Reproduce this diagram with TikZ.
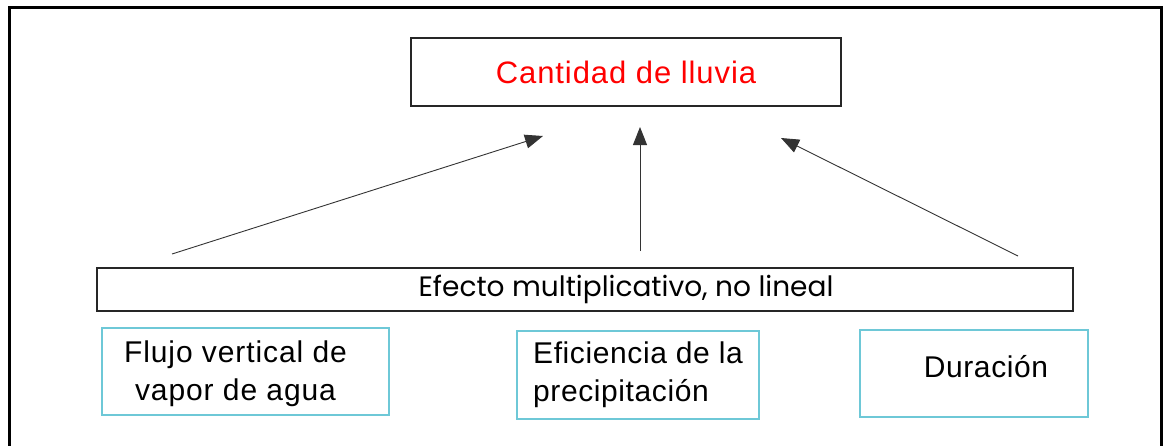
\documentclass[tikz,border=0pt]{standalone}
\usepackage{fontspec}
\setmainfont{Liberation Sans}
\newfontfamily\gothic{Poppins}
\usetikzlibrary{positioning, arrows.meta}
\definecolor{boxcyan}{RGB}{110,200,215}
\tikzset{
  rect1/.style = {
    shape = rectangle,
    draw = black!85,
    line width = 1.2pt,
    inner sep = 0pt,
    align = center,
  }
}
\tikzset{
  rect2/.style = {
    shape = rectangle,
    draw = boxcyan,
    line width = 1.2pt,
    inner sep = 0pt,
    font = \fontsize{30}{38}\selectfont\addfontfeature{LetterSpace=2},
  }
}
\tikzset{
  arrow1/.style = {
    draw = black!80, line width = 0.9pt, -{Triangle[length = 18pt, width = 14pt]},
  }
}

\begin{document}
\begin{tikzpicture}[x=1pt, y=-1pt]
        \useasboundingbox (0,0) rectangle (1164,445);
        \draw[line width = 3pt] (9,450) -- (9,7) -- (1161,7) -- (1161,450);
        \node[rect1, minimum width = 430pt, minimum height = 68pt, text = red,
          font = \fontsize{31}{38}\selectfont\addfontfeature{LetterSpace=3}](lluvia) at (626,72){Cantidad de lluvia};
        \node[rect1, minimum width = 976pt, minimum height = 43pt,
          label = {[font = \gothic\fontsize{28}{34}\selectfont, xshift = 41pt]center:Efecto multiplicativo, no lineal}](efecto) at (585,289.5){};
        \node[rect2, minimum width = 287pt, minimum height = 87pt,
          label = {[font = \fontsize{30}{38}\selectfont\addfontfeature{LetterSpace=3}, align = center, xshift = -10pt, yshift = -2pt]center:Flujo vertical de\\vapor de agua}](flujo) at (245.5,371.5){};
        \node[rect2, minimum width = 242pt, minimum height = 88pt, align = left](eficiencia) at (638,375){Eficiencia de la\\precipitación};
        \node[rect2, minimum width = 228pt, minimum height = 87pt,
          label = {[font = \fontsize{30}{38}\selectfont\addfontfeature{LetterSpace=2}, xshift = 12pt, yshift = 7pt]center:Duración}](duracion) at (974,373.5){};
        \coordinate (a1) at (172,254);
        \coordinate (b1) at (543,136);
        \coordinate (a2) at (640,251);
        \coordinate (b2) at (640,127);
        \coordinate (a3) at (1018,256);
        \coordinate (b3) at (781,138);
        \draw[arrow1](a1) -- (b1);
        \draw[arrow1](a2) -- (b2);
        \draw[arrow1](a3) -- (b3);
    \end{tikzpicture}
\end{document}
